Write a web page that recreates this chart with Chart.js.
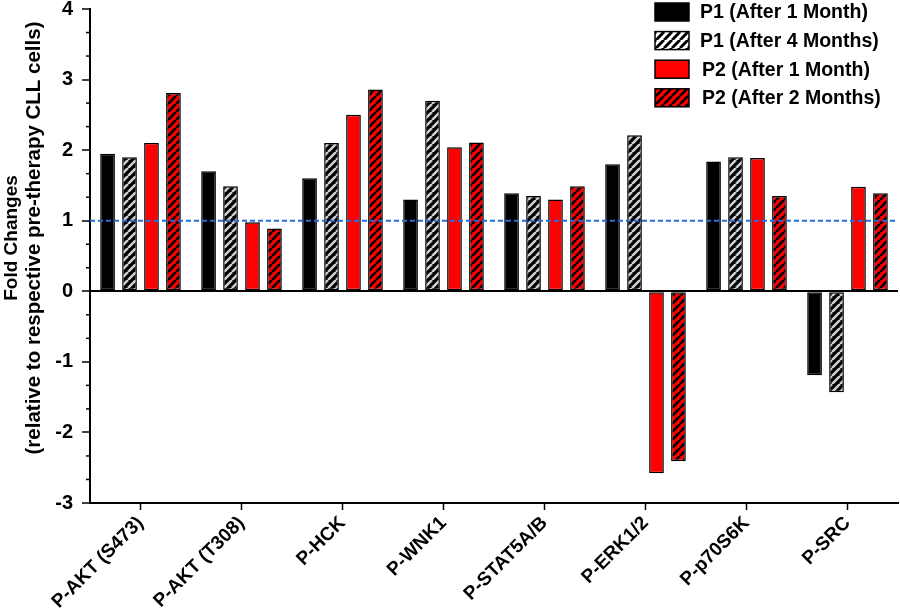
<!DOCTYPE html>
<html>
<head>
<meta charset="utf-8">
<script src="https://cdn.jsdelivr.net/npm/chart.js@4"></script>
<style>
  html, body { margin: 0; padding: 0; background: #fff; }
  #wrap { width: 900px; height: 611px; position: relative; }
</style>
</head>
<body>
<div id="wrap"><canvas id="chart"></canvas></div>
<script>
// Data
const categories = ['P-AKT (S473)', 'P-AKT (T308)', 'P-HCK', 'P-WNK1', 'P-STAT5A/B', 'P-ERK1/2', 'P-p70S6K', 'P-SRC'];
const seriesNames = ['P1 (After 1 Month)', 'P1 (After 4 Months)', 'P2 (After 1 Month)', 'P2 (After 2 Months)'];
const p1Month1 = [1.95, 1.70, 1.60, 1.30, 1.39, 1.80, 1.84, -1.19];
const p1Month4 = [1.90, 1.49, 2.10, 2.70, 1.35, 2.21, 1.90, -1.43];
const p2Month1 = [2.10, 0.98, 2.50, 2.04, 1.30, -2.58, 1.89, 1.48];
const p2Month2 = [2.81, 0.89, 2.86, 2.11, 1.49, -2.41, 1.35, 1.39];
const yTicks = [-3, -2, -1, 0, 1, 2, 3, 4];
const yTitle = ['Fold Changes', '(relative to respective pre-therapy CLL cells)'];
const referenceLevel = 1;

const FONT = '"Liberation Sans", Arial, sans-serif';

// diagonal hatch fill
function hatch(bg, fg, size, lw) {
  const c = document.createElement('canvas');
  c.width = size; c.height = size;
  const g = c.getContext('2d');
  g.fillStyle = bg;
  g.fillRect(0, 0, size, size);
  g.strokeStyle = fg;
  g.lineWidth = lw;
  g.beginPath();
  for (let k = -1; k <= 1; k++) {
    g.moveTo(k * size, size);
    g.lineTo(k * size + size, 0);
  }
  g.stroke();
  return g.createPattern(c, 'repeat');
}

const greyHatch = hatch('#000', '#cfcfcf', 8, 2.6);
const redHatch = hatch('#ff0000', '#000', 8, 2.6);
const legendFills = ['#000', hatch('#fff', '#000', 8, 3), '#ff0000', redHatch];

// dashed reference line, minor ticks, axis title, legend
const extras = {
  id: 'extras',
  afterDatasetsDraw(chart) {
    const { ctx, chartArea, scales } = chart;
    const y = scales.y;
    ctx.save();
    // minor ticks every 1/3
    ctx.strokeStyle = '#000';
    ctx.lineWidth = 1.5;
    for (let i = 0; i < yTicks.length - 1; i++) {
      for (let j = 1; j < 3; j++) {
        const py = y.getPixelForValue(yTicks[i] + j / 3);
        ctx.beginPath();
        ctx.moveTo(chartArea.left - 4, py);
        ctx.lineTo(chartArea.left, py);
        ctx.stroke();
      }
    }
    const py = y.getPixelForValue(referenceLevel);
    ctx.strokeStyle = '#1f6fe0';
    ctx.lineWidth = 2;
    ctx.setLineDash([5, 3]);
    ctx.beginPath();
    ctx.moveTo(chartArea.left, py);
    ctx.lineTo(chartArea.right, py);
    ctx.stroke();
    ctx.restore();
  },
  afterDraw(chart) {
    const ctx = chart.ctx;
    ctx.save();
    // y-axis title (two lines, rotated)
    ctx.fillStyle = '#000';
    ctx.textAlign = 'center';
    ctx.textBaseline = 'middle';
    ctx.translate(0, 238);
    ctx.rotate(-Math.PI / 2);
    ctx.font = 'bold 19px ' + FONT;
    ctx.fillText(yTitle[0], 0, 12);
    ctx.font = 'bold 20.5px ' + FONT;
    ctx.fillText(yTitle[1], 0, 34);
    ctx.restore();

    ctx.save();
    ctx.font = 'bold 19.5px ' + FONT;
    ctx.textBaseline = 'middle';
    seriesNames.forEach((name, i) => {
      const top = 3 + i * 28.6;
      ctx.fillStyle = legendFills[i];
      ctx.fillRect(655, top, 34, 18);
      ctx.strokeStyle = '#000';
      ctx.lineWidth = 1.5;
      ctx.strokeRect(655, top, 34, 18);
      ctx.fillStyle = '#000';
      ctx.fillText(name, i < 2 ? 700 : 702, top + 10);
    });
    ctx.restore();
  }
};

const fills = ['#000', greyHatch, '#ff0000', redHatch];
const values = [p1Month1, p1Month4, p2Month1, p2Month2];

new Chart(document.getElementById('chart'), {
  type: 'bar',
  data: {
    labels: categories,
    datasets: seriesNames.map((name, i) => ({
      label: name,
      data: values[i],
      backgroundColor: fills[i],
      borderColor: '#000',
      borderWidth: 1.5,
      borderSkipped: false,
      categoryPercentage: 0.87,
      barPercentage: 0.67
    }))
  },
  options: {
    responsive: true,
    maintainAspectRatio: false,
    animation: false,
    layout: { padding: { top: 9, right: 2, left: 0, bottom: 0 } },
    plugins: {
      legend: { display: false },
      tooltip: { enabled: false }
    },
    scales: {
      x: {
        grid: { display: true, drawOnChartArea: false, offset: false, tickLength: 7, tickColor: '#000', tickWidth: 1.5 },
        border: { color: '#000', width: 2 },
        ticks: {
          color: '#000',
          font: { family: FONT, size: 19, weight: 'bold' },
          minRotation: 45,
          maxRotation: 45,
          padding: 2
        },
        afterFit(scale) {
          scale.height = 108;
          scale.paddingLeft = 0;
          scale.paddingRight = 0;
        }
      },
      y: {
        min: -3,
        max: 4,
        afterBuildTicks(scale) { scale.ticks = yTicks.map(v => ({ value: v })); },
        grid: {
          drawOnChartArea: true,
          color: ctx => (ctx.tick && ctx.tick.value === 0 ? '#000' : 'rgba(0,0,0,0)'),
          lineWidth: ctx => (ctx.tick && ctx.tick.value === 0 ? 2 : 0),
          tickColor: '#000',
          tickWidth: 1.5,
          tickLength: 8
        },
        border: { color: '#000', width: 2 },
        ticks: {
          color: '#000',
          font: { family: FONT, size: 20, weight: 'bold' },
          padding: 9
        },
        afterFit(scale) {
          scale.width = 90;
          scale.paddingTop = 0;
          scale.paddingBottom = 0;
        }
      }
    }
  },
  plugins: [extras]
});
</script>
</body>
</html>
